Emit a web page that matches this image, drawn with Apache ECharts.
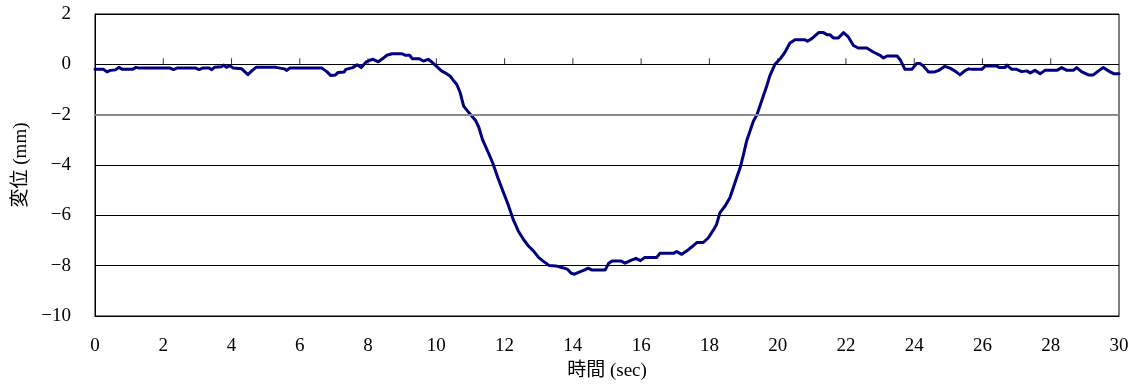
<!DOCTYPE html>
<html>
<head>
<meta charset="utf-8">
<script src="https://cdn.jsdelivr.net/npm/echarts@6/dist/echarts.min.js"></script>
<style>
  html, body { margin: 0; padding: 0; background: #fff; }
  #chart { width: 1134px; height: 387px; }
</style>
</head>
<body>
<div id="chart"></div>
<script>
// Measured displacement record: time (s) and displacement (mm)
const timeSec = [
  0, 0.25, 0.35, 0.45, 0.6, 0.7, 0.8, 1.1, 1.2, 1.3, 2.2, 2.3, 2.4, 2.95, 3.05, 3.15, 3.35, 3.42, 3.5, 3.7,
  3.77, 3.85, 3.95, 4.05, 4.3, 4.48, 4.6, 4.72, 5.3, 5.35, 5.55, 5.62, 5.7, 6.65, 6.8, 6.9, 7.05, 7.12, 7.3, 7.35,
  7.55, 7.68, 7.8, 7.95, 8.05, 8.15, 8.3, 8.45, 8.55, 8.7, 9.0, 9.1, 9.22, 9.3, 9.5, 9.62, 9.76, 9.86, 10.0, 10.15,
  10.3, 10.4, 10.5, 10.6, 10.7, 10.8, 10.9, 11.0, 11.15, 11.25, 11.35, 11.5, 11.65, 11.8, 11.95, 12.1, 12.25, 12.4, 12.55, 12.7,
  12.85, 13.0, 13.15, 13.3, 13.5, 13.7, 13.85, 13.95, 14.05, 14.2, 14.35, 14.45, 14.55, 14.95, 15.05, 15.15, 15.4, 15.53, 15.7, 15.85,
  15.98, 16.1, 16.45, 16.55, 16.95, 17.04, 17.19, 17.33, 17.48, 17.63, 17.82, 17.97, 18.11, 18.21, 18.31, 18.46, 18.6, 18.7, 18.8, 18.9,
  19.0, 19.09, 19.19, 19.29, 19.39, 19.48, 19.58, 19.68, 19.77, 19.92, 20.06, 20.2, 20.36, 20.51, 20.8, 20.87, 21.0, 21.2, 21.34, 21.44,
  21.53, 21.63, 21.78, 21.93, 22.07, 22.22, 22.36, 22.61, 22.8, 23.0, 23.1, 23.15, 23.2, 23.5, 23.6, 23.73, 23.93, 24.07, 24.17, 24.27,
  24.42, 24.6, 24.72, 24.9, 25.05, 25.2, 25.34, 25.5, 25.6, 25.7, 25.98, 26.08, 26.42, 26.5, 26.66, 26.71, 26.86, 27.0, 27.15, 27.3,
  27.4, 27.54, 27.69, 27.83, 28.18, 28.32, 28.47, 28.66, 28.76, 28.9, 29.1, 29.25, 29.4, 29.54, 29.69, 29.84, 30.0
];
const dispMm = [
  -0.2, -0.2, -0.3, -0.24, -0.22, -0.12, -0.2, -0.2, -0.12, -0.15, -0.15, -0.21, -0.15, -0.15, -0.21, -0.15, -0.15, -0.21, -0.12, -0.1,
  -0.03, -0.12, -0.05, -0.15, -0.18, -0.41, -0.25, -0.12, -0.12, -0.18, -0.18, -0.24, -0.15, -0.15, -0.3, -0.44, -0.42, -0.32, -0.3, -0.2,
  -0.13, -0.02, -0.13, 0.1, 0.16, 0.2, 0.1, 0.25, 0.36, 0.42, 0.42, 0.36, 0.36, 0.22, 0.22, 0.13, 0.2, 0.1, -0.07, -0.26,
  -0.37, -0.46, -0.64, -0.8, -1.13, -1.66, -1.83, -1.99, -2.23, -2.52, -2.98, -3.44, -3.91, -4.5, -5.03, -5.56, -6.16, -6.62, -6.95, -7.22,
  -7.42, -7.68, -7.84, -7.99, -8.01, -8.08, -8.15, -8.3, -8.34, -8.25, -8.17, -8.1, -8.17, -8.17, -7.9, -7.81, -7.81, -7.9, -7.79, -7.71,
  -7.8, -7.68, -7.68, -7.51, -7.51, -7.44, -7.55, -7.42, -7.26, -7.08, -7.08, -6.89, -6.6, -6.36, -5.89, -5.63, -5.3, -4.9, -4.5, -4.11,
  -3.58, -3.05, -2.65, -2.25, -2.01, -1.66, -1.26, -0.86, -0.46, 0, 0.2, 0.45, 0.85, 0.98, 0.98, 0.92, 1.02, 1.26, 1.26, 1.18,
  1.18, 1.05, 1.05, 1.26, 1.09, 0.75, 0.65, 0.65, 0.49, 0.36, 0.25, 0.24, 0.33, 0.33, 0.16, -0.2, -0.2, 0.03, 0.03, -0.07,
  -0.3, -0.3, -0.24, -0.08, -0.15, -0.27, -0.42, -0.24, -0.18, -0.2, -0.2, -0.07, -0.07, -0.13, -0.13, -0.03, -0.2, -0.2, -0.29, -0.26,
  -0.34, -0.24, -0.37, -0.24, -0.24, -0.13, -0.24, -0.24, -0.13, -0.29, -0.42, -0.42, -0.26, -0.13, -0.26, -0.37, -0.37
];

// Time ticks marked on the zero line
const zeroLineTicks = [2, 4, 6, 8, 10, 12, 14, 16, 18, 20, 22, 24, 26, 28];

const xName = '時間 (sec)';
const yName = '変位 (mm)';

const points = timeSec.map((t, i) => [t, dispMm[i]]);
const tickMarks = zeroLineTicks.map(t => [t, 0]);
const fontFam = '"Liberation Serif", "DejaVu Serif", "Noto Sans CJK JP", serif';
const fmtNum = v => (v < 0 ? '\u2212' + Math.abs(v) : String(v));

const chart = echarts.init(document.getElementById('chart'), null, { renderer: 'canvas' });
chart.setOption({
  animation: false,
  backgroundColor: '#fff',
  grid: {
    left: 95, right: 15, top: 14, bottom: 71,
    show: true, borderColor: '#000', borderWidth: 1, backgroundColor: 'transparent'
  },
  xAxis: {
    type: 'value', min: 0, max: 30, interval: 2, position: 'bottom',
    name: xName, nameLocation: 'middle', nameGap: 46,
    nameTextStyle: { fontFamily: fontFam, fontSize: 19, color: '#000' },
    axisLine: { onZero: false, lineStyle: { color: '#000', width: 1 } },
    axisTick: { show: false },
    axisLabel: { fontFamily: fontFam, fontSize: 19, color: '#000', margin: 21 },
    splitLine: { show: false }
  },
  yAxis: {
    type: 'value', min: -10, max: 2, interval: 2,
    name: yName, nameLocation: 'middle', nameGap: 64, nameRotate: 90,
    nameTextStyle: { fontFamily: fontFam, fontSize: 19, color: '#000' },
    axisLine: { show: true, lineStyle: { color: '#000', width: 1 } },
    axisTick: { show: true, inside: true, length: 6, lineStyle: { color: '#000' } },
    axisLabel: { fontFamily: fontFam, fontSize: 19, color: '#000', margin: 24, formatter: fmtNum },
    splitLine: { show: true, lineStyle: { color: '#000', width: 1 } }
  },
  series: [
    {
      // grey guide at -2 mm, kept beneath the record
      type: 'line', data: points, silent: true, z: 1,
      symbol: 'none', lineStyle: { opacity: 0 },
      markLine: {
        silent: true, symbol: 'none', label: { show: false },
        lineStyle: { color: '#8a8a8a', width: 2, type: 'solid' },
        data: [{ yAxis: -2 }]
      }
    },
    {
      // short upward ticks standing on the zero line
      type: 'scatter', data: tickMarks, silent: true, z: 2,
      symbol: 'rect', symbolSize: [1, 6], symbolOffset: [0, -3],
      itemStyle: { color: '#000' }
    },
    {
      type: 'line', data: points, z: 3,
      symbol: 'none', showSymbol: false,
      lineStyle: { color: '#000080', width: 3, join: 'round', cap: 'round' }
    }
  ]
});
</script>
</body>
</html>
